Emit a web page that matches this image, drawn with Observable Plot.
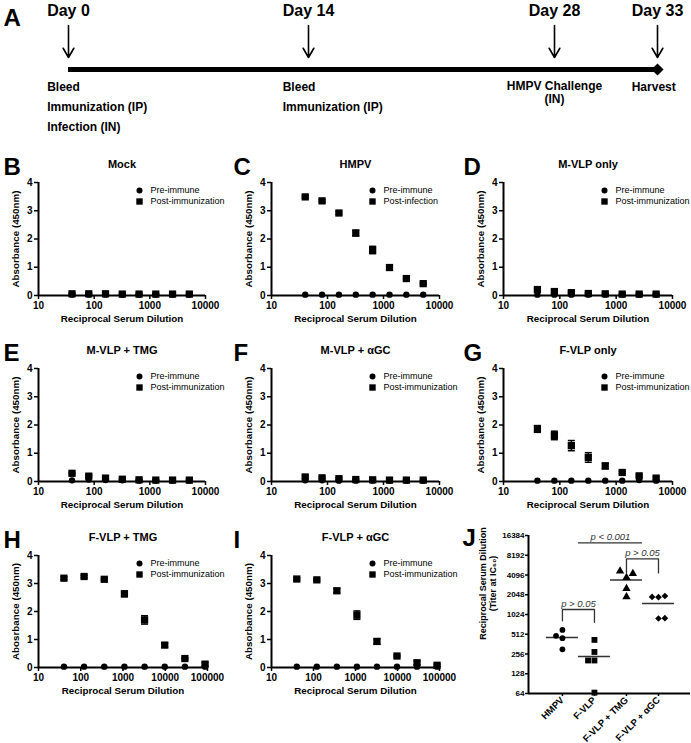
<!DOCTYPE html>
<html><head><meta charset="utf-8">
<script src="https://cdn.jsdelivr.net/npm/d3@7"></script>
<script src="https://cdn.jsdelivr.net/npm/@observablehq/plot@0.6"></script>
<style>
body{margin:0;background:#fff;}
#fig{position:relative;width:691px;height:743px;overflow:hidden;background:#fff;}
</style></head><body><div id="fig"></div>
<script>
// ---------------- DATA ----------------
// Panel A timeline
const days = [0, 14, 28, 33];
const dayLabels = ["Day 0", "Day 14", "Day 28", "Day 33"];
const dayNotes = [["Bleed", "Immunization (IP)", "Infection (IN)"], ["Bleed", "Immunization (IP)"], ["HMPV Challenge\n(IN)"], ["Harvest"]];

// ELISA dilutions
const dil2 = [40, 80, 160, 320, 640, 1280, 2560, 5120];
const dil3 = [40, 120, 360, 1080, 3240, 9720, 29160, 87480];
const ticks4 = [10, 100, 1000, 10000];
const ticks5 = [10, 100, 1000, 10000, 100000];

const mockPre  = [0.03, 0.03, 0.03, 0.03, 0.03, 0.03, 0.03, 0.03];
const mockPost = [0.06, 0.06, 0.06, 0.05, 0.05, 0.05, 0.05, 0.05];
const mockErr  = [0.02, 0.02, 0.02, 0.02, 0.02, 0.02, 0.02, 0.02];

const hmpvPre  = [0.03, 0.03, 0.03, 0.03, 0.03, 0.03, 0.03, 0.03];
const hmpvPost = [3.49, 3.35, 2.92, 2.21, 1.61, 0.99, 0.60, 0.42];
const hmpvErr  = [0.04, 0.04, 0.05, 0.10, 0.13, 0.08, 0.04, 0.03];

const mvlpPre  = [0.03, 0.03, 0.03, 0.03, 0.03, 0.03, 0.03, 0.03];
const mvlpPost = [0.21, 0.14, 0.10, 0.07, 0.06, 0.05, 0.05, 0.05];
const mvlpErr  = [0.05, 0.04, 0.03, 0.02, 0.02, 0.02, 0.02, 0.02];

const mvlpTmgPre  = [0.04, 0.07, 0.05, 0.04, 0.03, 0.03, 0.03, 0.03];
const mvlpTmgPost = [0.29, 0.19, 0.12, 0.08, 0.06, 0.05, 0.05, 0.05];
const mvlpTmgErr  = [0.03, 0.04, 0.03, 0.02, 0.02, 0.02, 0.02, 0.02];

const mvlpGcPre  = [0.04, 0.04, 0.03, 0.03, 0.03, 0.03, 0.03, 0.03];
const mvlpGcPost = [0.16, 0.13, 0.10, 0.07, 0.06, 0.05, 0.05, 0.05];
const mvlpGcErr  = [0.05, 0.03, 0.03, 0.02, 0.02, 0.02, 0.02, 0.02];

const fvlpPre  = [0.03, 0.03, 0.03, 0.03, 0.03, 0.03, 0.05, 0.03];
const fvlpPost = [1.86, 1.63, 1.27, 0.85, 0.55, 0.32, 0.20, 0.12];
const fvlpErr  = [0.12, 0.15, 0.18, 0.17, 0.10, 0.04, 0.04, 0.05];

const fvlpTmgPre  = [0.03, 0.03, 0.03, 0.03, 0.03, 0.03, 0.03, 0.03];
const fvlpTmgPost = [3.19, 3.25, 3.15, 2.63, 1.70, 0.80, 0.32, 0.12];
const fvlpTmgErr  = [0.05, 0.04, 0.04, 0.10, 0.15, 0.07, 0.03, 0.06];

const fvlpGcPre  = [0.03, 0.03, 0.03, 0.03, 0.03, 0.03, 0.03, 0.03];
const fvlpGcPost = [3.16, 3.13, 2.74, 1.87, 0.93, 0.41, 0.17, 0.08];
const fvlpGcErr  = [0.04, 0.04, 0.08, 0.15, 0.10, 0.03, 0.07, 0.04];

// Panel J titers
const groups = ["HMPV", "F-VLP", "F-VLP + TMG", "F-VLP + \u03b1GC"];
const groupSymbols = ["circle", "square", "triangle", "diamond2"];
const titerHmpv    = [595, 485, 446, 302];
const titerFvlp    = [420, 275, 204, 204, 66];
const titerFvlpTmg = [4705, 4290, 3740, 2540, 1900];
const titerFvlpGc  = [1900, 1880, 1960, 890, 900];
// scatter column (GraphPad spreading of overlapping points)
const colHmpv    = [0, -1, 0, 0];
const colFvlp    = [0, 0, -1, 0, 0];
const colFvlpTmg = [-1, 1, 0, 0, 0];
const colFvlpGc  = [-1, 0, 1, 0, 1];
const jTicks = [64, 128, 256, 512, 1024, 2048, 4096, 8192, 16384];
// significance annotations
const bracketPairs = [[0, 1], [2, 3]];
const bracketTops  = [1220, 7200];
const bracketFeet  = [[820, 780], [4400, 4400]];
const bracketLabels = ["p > 0.05", "p > 0.05"];
const spanEnds = [0.5, 2.5];
const spanLevel = 12650;
const spanLabel = "p < 0.001";

// ---------------- LAYOUT ----------------
const FONT = "Arial, 'Liberation Sans', Helvetica, sans-serif";
const fig = document.getElementById("fig");
function place(el, left, top) {
  el.style.position = "absolute"; el.style.left = left + "px"; el.style.top = top + "px";
  fig.appendChild(el);
}
const baseStyle = {fontFamily: FONT, fontSize: "10px", fontWeight: "bold", background: "transparent", overflow: "visible", color: "black"};

// ---- Panel A ----
(function () {
  const cv = document.createElement("canvas").getContext("2d");
  cv.font = "bold 16px " + FONT;
  const half = dayLabels.map(t => cv.measureText(t).width / 2);
  const notes = [];
  dayNotes.forEach((arr, i) => arr.forEach((t, r) => notes.push({day: days[i], i, r, t})));
  const startNotes = notes.filter(d => d.day !== 28);
  const midNotes = notes.filter(d => d.day === 28);
  const svg = Plot.plot({
    width: 691, height: 150, margin: 0,
    style: baseStyle,
    x: {type: "linear", domain: [0, 14, 28, 33], range: [68, 308, 554, 657], axis: null},
    y: {type: "linear", domain: [0, 150], range: [0, 150], axis: null},
    marks: [
      Plot.text(["A"], {frameAnchor: "top-left", dx: 3, dy: 25, lineAnchor: "bottom", textAnchor: "start", text: d => d, fontSize: 24}),
      Plot.text(days, {x: d => d, y: () => 10, text: (d, i) => dayLabels[i], fontSize: 16, lineAnchor: "middle"}),
      Plot.arrow(days, {x1: d => d, x2: d => d, y1: () => 25, y2: () => 57, strokeWidth: 1.6, headLength: 10, headAngle: 60}),
      Plot.ruleY([69], {x1: days[0], x2: days[3], strokeWidth: 5}),
      Plot.dot([days[3]], {x: d => d, y: () => 69, symbol: "diamond2", r: 5.5, fill: "black"}),
      ...[0, 1, 3].map(i => Plot.text(startNotes.filter(d => d.i === i), {x: "day", y: d => 87 + 20 * d.r, text: "t", textAnchor: "start", dx: -half[i], fontSize: 12, lineAnchor: "middle"})),
      Plot.text(midNotes, {x: "day", y: () => 87, text: "t", textAnchor: "middle", fontSize: 12, lineAnchor: "top", dy: -7, lineHeight: 1.1})
    ]
  });
  place(svg, 0, 0);
})();

// ---- ELISA panels ----
const capSymbol = {draw(ctx, size) { const w = Math.sqrt(size / Math.PI); ctx.moveTo(-w, 0); ctx.lineTo(w, 0); }};
const panels = [
  {letter: "B", title: "Mock", dil: dil2, pre: mockPre, post: mockPost, err: mockErr, xMax: 10000, ticks: ticks4, postLabel: "Post-immunization", yLabel: "Absorbance (450nm)", f: {L: 0, l: 38, r: 205, t: 182, b: 295}},
  {letter: "C", title: "HMPV", dil: dil2, pre: hmpvPre, post: hmpvPost, err: hmpvErr, xMax: 10000, ticks: ticks4, postLabel: "Post-infection", yLabel: "Absorbance (450nm)", f: {L: 230, l: 271, r: 439, t: 182, b: 295}},
  {letter: "D", title: "M-VLP only", dil: dil2, pre: mvlpPre, post: mvlpPost, err: mvlpErr, xMax: 10000, ticks: ticks4, postLabel: "Post-immunization", yLabel: "Absorbance (450nm)", f: {L: 460, l: 503, r: 672, t: 182, b: 295}},
  {letter: "E", title: "M-VLP + TMG", dil: dil2, pre: mvlpTmgPre, post: mvlpTmgPost, err: mvlpTmgErr, xMax: 10000, ticks: ticks4, postLabel: "Post-immunization", yLabel: "Absorbance (450nm)", f: {L: 0, l: 38, r: 205, t: 368, b: 481}},
  {letter: "F", title: "M-VLP + \u03b1GC", dil: dil2, pre: mvlpGcPre, post: mvlpGcPost, err: mvlpGcErr, xMax: 10000, ticks: ticks4, postLabel: "Post-immunization", yLabel: "Absorbance (450nm)", f: {L: 230, l: 271, r: 439, t: 368, b: 481}},
  {letter: "G", title: "F-VLP only", dil: dil2, pre: fvlpPre, post: fvlpPost, err: fvlpErr, xMax: 10000, ticks: ticks4, postLabel: "Post-immunization", yLabel: "Absorbance (450nm)", f: {L: 460, l: 503, r: 672, t: 368, b: 481}},
  {letter: "H", title: "F-VLP + TMG", dil: dil3, pre: fvlpTmgPre, post: fvlpTmgPost, err: fvlpTmgErr, xMax: 100000, ticks: ticks5, postLabel: "Post-immunization", yLabel: "Abosrbance (450nm)", f: {L: 0, l: 38, r: 207, t: 555, b: 667}},
  {letter: "I", title: "F-VLP + \u03b1GC", dil: dil3, pre: fvlpGcPre, post: fvlpGcPost, err: fvlpGcErr, xMax: 100000, ticks: ticks5, postLabel: "Post-immunization", yLabel: "Absorbance (450nm)", f: {L: 230, l: 271, r: 439, t: 555, b: 667}}
];

panels.forEach(p => {
  const f = p.f, W = 230, H = 186, top = f.t - 32;
  const pre = p.dil.map((x, i) => ({x, y: p.pre[i]}));
  const post = p.dil.map((x, i) => ({x, y: p.post[i], e: p.err[i]}));
  const caps = post.flatMap(d => [{x: d.x, y: d.y - d.e}, {x: d.x, y: d.y + d.e}]);
  const svg = Plot.plot({
    width: W, height: H,
    marginLeft: f.l - f.L, marginRight: f.L + W - f.r, marginTop: 32, marginBottom: H - 32 - (f.b - f.t),
    style: baseStyle,
    x: {type: "log", domain: [10, p.xMax]},
    y: {domain: [0, 4]},
    marks: [
      Plot.axisY({ticks: [0, 1, 2, 3, 4], tickFormat: d => String(d), tickSize: 4, tickPadding: 2, strokeWidth: 1.5, label: null}),
      Plot.axisX({ticks: p.ticks, tickFormat: d => String(d), tickSize: 4, tickPadding: 2, strokeWidth: 1.5, label: null}),
      Plot.ruleX([10], {strokeWidth: 2}),
      Plot.ruleY([0], {strokeWidth: 2}),
      Plot.ruleX(post, {x: "x", y1: d => d.y - d.e, y2: d => d.y + d.e, strokeWidth: 1.5}),
      Plot.dot(caps, {x: "x", y: "y", symbol: capSymbol, r: 3.5, stroke: "black", strokeWidth: 1.5}),
      Plot.dot(pre, {x: "x", y: "y", r: 3.2, fill: "black"}),
      Plot.dot(post, {x: "x", y: "y", symbol: "square", r: 4.1, fill: "black"}),
      // legend
      Plot.dot([0], {frameAnchor: "top-left", dx: 101, dy: 8, r: 3, fill: "black"}),
      Plot.dot([0], {frameAnchor: "top-left", dx: 101, dy: 19, symbol: "square", r: 3.6, fill: "black"}),
      Plot.text(["Pre-immune"], {frameAnchor: "top-left", dx: 112, dy: 8, text: d => d, textAnchor: "start", lineAnchor: "middle", fontWeight: "normal", fontSize: 9}),
      Plot.text([p.postLabel], {frameAnchor: "top-left", dx: 112, dy: 19, text: d => d, textAnchor: "start", lineAnchor: "middle", fontWeight: "normal", fontSize: 9}),
      // labels
      Plot.text([p.letter], {frameAnchor: "top-left", dx: f.L + 3 - f.l, dy: -8, text: d => d, textAnchor: "start", lineAnchor: "bottom", fontSize: 24}),
      Plot.text([p.title], {frameAnchor: "top", dy: -18, text: d => d, textAnchor: "middle", lineAnchor: "middle", fontSize: 11}),
      Plot.text([p.yLabel], {frameAnchor: "left", dx: -23, rotate: -90, text: d => d, textAnchor: "middle", lineAnchor: "middle", fontSize: 9.8}),
      Plot.text(["Reciprocal Serum Dilution"], {frameAnchor: "bottom", dy: 23, text: d => d, textAnchor: "middle", lineAnchor: "middle", fontSize: 9.8})
    ]
  });
  place(svg, f.L, top);
});

// ---- Panel J ----
(function () {
  const titers = [titerHmpv, titerFvlp, titerFvlpTmg, titerFvlpGc];
  const cols = [colHmpv, colFvlp, colFvlpTmg, colFvlpGc];
  const pts = titers.flatMap((arr, g) => arr.map((v, k) => ({g, v, x: g + cols[g][k] * 0.2})));
  const means = titers.map((arr, g) => ({g, m: d3.mean(arr)}));
  const brackets = bracketPairs.flatMap((pr, b) => [
    {b, x: pr[0], y: bracketFeet[b][0]}, {b, x: pr[0], y: bracketTops[b]},
    {b, x: pr[1], y: bracketTops[b]}, {b, x: pr[1], y: bracketFeet[b][1]}]);
  const L = 460, T = 522, W = 231, H = 221;
  const l = 528, r = 690, t = 535, bt = 693;
  const sizes = [2.9, 3.3, 3.1, 3.0];
  const svg = Plot.plot({
    width: W, height: H,
    marginLeft: l - L, marginRight: L + W - r, marginTop: t - T, marginBottom: T + H - bt,
    style: baseStyle,
    x: {type: "linear", domain: [-1.06, 4.0]},
    y: {type: "log", base: 2, domain: [64, 16384]},
    marks: [
      Plot.axisY({ticks: jTicks, tickFormat: d => String(d), tickSize: 3, tickPadding: 1, strokeWidth: 1.5, fontSize: 8, label: null}),
      Plot.axisX({ticks: [0, 1, 2, 3], tickFormat: i => groups[i], tickRotate: -45, tickSize: 3, tickPadding: 2, strokeWidth: 1.5, fontSize: 9.5, label: null}),
      Plot.ruleX([-1.06], {strokeWidth: 2}),
      Plot.ruleY([64], {strokeWidth: 2}),
      Plot.ruleY(means, {y: "m", x1: d => d.g - 0.5, x2: d => d.g + 0.5, stroke: "#333", strokeWidth: 1.5}),
      ...groups.map((gname, g) => Plot.dot(pts.filter(d => d.g === g), {x: "x", y: "v", symbol: groupSymbols[g], r: sizes[g], fill: "black"})),
      Plot.line(brackets, {x: "x", y: "y", z: "b", stroke: "#333", strokeWidth: 1.3}),
      Plot.text(bracketPairs, {x: d => (d[0] + d[1]) / 2, y: (d, i) => bracketTops[i], text: (d, i) => bracketLabels[i], textAnchor: "middle", lineAnchor: "bottom", dy: -3, fontStyle: "italic", fontWeight: "normal", fontSize: 9.5, fill: "#333"}),
      Plot.ruleY([spanLevel], {x1: spanEnds[0], x2: spanEnds[1], stroke: "#333", strokeWidth: 1.3}),
      Plot.text([spanLabel], {x: () => (spanEnds[0] + spanEnds[1]) / 2, y: () => spanLevel, text: d => d, textAnchor: "middle", lineAnchor: "bottom", dy: -3, fontStyle: "italic", fontWeight: "normal", fontSize: 9.5, fill: "#333"}),
      Plot.text(["J"], {frameAnchor: "top-left", dx: L + 2 - l, dy: 10, text: d => d, textAnchor: "start", lineAnchor: "bottom", fontSize: 24}),
      Plot.text(["Reciprocal Serum Dilution\n(Titer at IC\u2085\u2080)"], {frameAnchor: "left", dx: -41, dy: -31, rotate: -90, text: d => d, textAnchor: "middle", lineAnchor: "middle", lineHeight: 1.15, fontSize: 9})
    ]
  });
  place(svg, L, T);
})();
</script></body></html>
